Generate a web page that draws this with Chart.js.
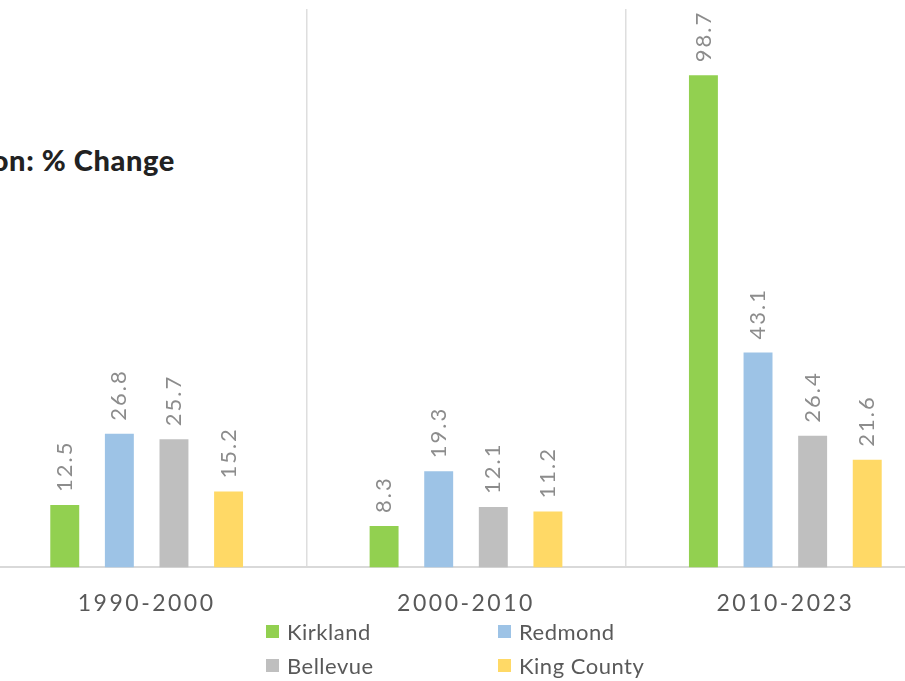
<!DOCTYPE html>
<html>
<head>
<meta charset="utf-8">
<script src="https://cdn.jsdelivr.net/npm/chart.js@4"></script>
<style>
  body { margin: 0; width: 905px; height: 681px; overflow: hidden; position: relative; background: #fff; }
  #box { position: absolute; left: -13px; top: 0; width: 958px; height: 639px; }
  #title { position: absolute; right: 730px; top: 142px; white-space: nowrap;
           font-family: Lato, sans-serif; font-weight: 900; font-size: 29px; letter-spacing: 0.6px; color: #222; }
  #legend { position: absolute; left: 266px; top: 617px; width: 420px;
            display: grid; grid-template-columns: 232px 188px; row-gap: 6px;
            font-family: Lato, sans-serif; font-size: 22px; color: #595959; letter-spacing: 0.5px; }
  #legend div { display: flex; align-items: center; height: 28px; }
  #legend span { display: inline-block; width: 13px; height: 13px; margin-right: 8px; }
</style>
</head>
<body>
<div id="title">Population: % Change</div>
<div id="box"><canvas id="chart"></canvas></div>
<div id="legend"></div>
<script>
// Dados do gráfico
const periods = ['1990-2000', '2000-2010', '2010-2023'];
const cities = ['Kirkland', 'Redmond', 'Bellevue', 'King County'];
const kirkland = [12.5, 8.3, 98.7];
const redmond = [26.8, 19.3, 43.1];
const bellevue = [25.7, 12.1, 26.4];
const kingCounty = [15.2, 11.2, 21.6];
const colors = ['#92d050', '#9dc3e6', '#bfbfbf', '#ffd966'];

const series = [kirkland, redmond, bellevue, kingCounty];

// rótulos girados acima das barras
const barLabels = {
  id: 'barLabels',
  beforeDraw(chart) {
    chart.ctx.letterSpacing = '2.5px';
  },
  afterDatasetsDraw(chart) {
    const ctx = chart.ctx;
    ctx.save();
    ctx.letterSpacing = '2px';
    ctx.font = '22px Lato, sans-serif';
    ctx.fillStyle = '#8c8c8c';
    ctx.textAlign = 'left';
    ctx.textBaseline = 'middle';
    chart.data.datasets.forEach((ds, i) => {
      chart.getDatasetMeta(i).data.forEach((bar, j) => {
        ctx.save();
        ctx.translate(bar.x, bar.y - 13);
        ctx.rotate(-Math.PI / 2);
        ctx.fillText(ds.data[j].toFixed(1), 0, 0);
        ctx.restore();
      });
    });
    ctx.restore();
  }
};

const ctx = document.getElementById('chart').getContext('2d');
const myChart = new Chart(ctx, {
  type: 'bar',
  data: {
    labels: periods,
    datasets: cities.map((c, i) => ({
      label: c,
      data: series[i],
      backgroundColor: colors[i],
      categoryPercentage: 0.684,
      barPercentage: 0.53
    }))
  },
  options: {
    responsive: true,
    maintainAspectRatio: false,
    animation: false,
    layout: { padding: { top: 9, left: 0, right: 0, bottom: 0 } },
    plugins: { legend: { display: false }, tooltip: { enabled: false } },
    scales: {
      x: {
        grid: { offset: true, color: '#dedede', lineWidth: 1.5, drawTicks: false },
        border: { color: '#d9d9d9', width: 2 },
        ticks: { color: '#595959', font: { family: 'Lato', size: 23 }, padding: 22, maxRotation: 0, autoSkip: false }
      },
      y: { display: false, min: 0, max: 112 }
    }
  },
  plugins: [barLabels]
});

// legenda em duas colunas
const legend = document.getElementById('legend');
cities.forEach((c, i) => {
  const item = document.createElement('div');
  item.innerHTML = '<span style="background:' + colors[i] + '"></span>' + c;
  legend.appendChild(item);
});
</script>
</body>
</html>
